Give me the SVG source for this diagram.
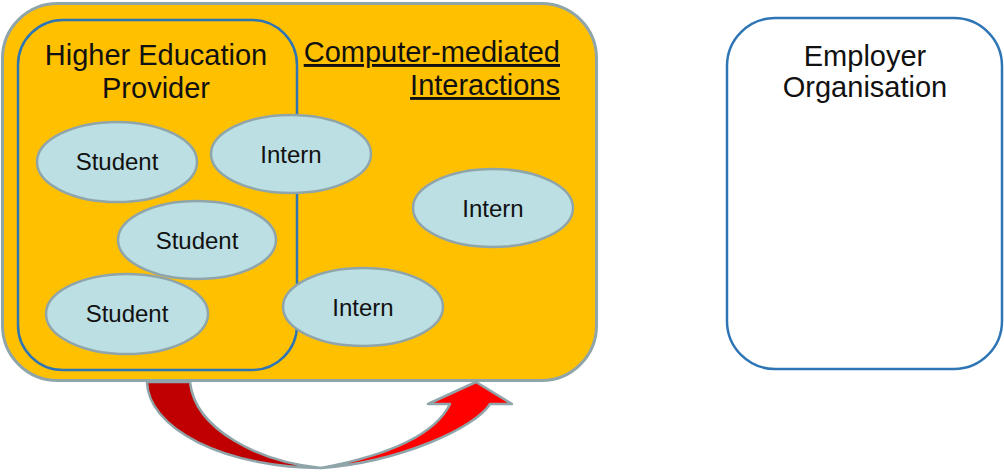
<svg xmlns="http://www.w3.org/2000/svg" width="1004" height="472" viewBox="0 0 1004 472">
<style>
.lbl{font-family:"Liberation Sans",Arial,sans-serif;fill:#111;text-anchor:middle}
.end{text-anchor:end;text-decoration:underline}
.big{font-size:29px}
.sm{font-size:24px}
.ell{fill:#BBDFE2;stroke:#8FA5AA;stroke-width:2.5}
.blue{fill:none;stroke:#2E75B6;stroke-width:2.5}
.arr{stroke:#8FA5AA;stroke-width:2.5;stroke-linejoin:round}
</style>
<rect width="1004" height="472" fill="#fff"/>
<g id="cmi">
<rect x="2.5" y="3.5" width="594" height="377" rx="55" ry="55" fill="#FFC000" stroke="#8FA5AA" stroke-width="3"/>
<text class="lbl big end" x="560" y="62">Computer-mediated</text>
<text class="lbl big end" x="560" y="95">Interactions</text>
</g>
<g id="hep">
<rect class="blue" x="18" y="20" width="279" height="350" rx="45" ry="45"/>
<text class="lbl big" x="156" y="65">Higher Education</text>
<text class="lbl big" x="156" y="98">Provider</text>
</g>
<g id="student1"><ellipse class="ell" cx="117" cy="162" rx="80" ry="40"/><text class="lbl sm" x="117" y="170">Student</text></g>
<g id="intern1"><ellipse class="ell" cx="291" cy="154" rx="80" ry="39"/><text class="lbl sm" x="291" y="163">Intern</text></g>
<g id="student2"><ellipse class="ell" cx="197" cy="240" rx="79" ry="39"/><text class="lbl sm" x="197" y="249">Student</text></g>
<g id="student3"><ellipse class="ell" cx="127" cy="314" rx="81" ry="40"/><text class="lbl sm" x="127" y="322">Student</text></g>
<g id="intern2"><ellipse class="ell" cx="493" cy="208" rx="80" ry="39"/><text class="lbl sm" x="493" y="217">Intern</text></g>
<g id="intern3"><ellipse class="ell" cx="363" cy="307" rx="80" ry="39"/><text class="lbl sm" x="363" y="316">Intern</text></g>
<g id="employer">
<rect class="blue" x="727" y="18" width="275" height="351" rx="48" ry="48" fill="#fff"/>
<text class="lbl big" x="865" y="66">Employer</text>
<text class="lbl big" x="865" y="97">Organisation</text>
</g>
<g id="connectors">
<path class="arr" fill="#C00000" d="M147,382 A176,87 0 0 0 321,468 C260,462 195,430 190,382 Z"/>
<path class="arr" fill="#FF0000" d="M321,468 C400,462 475,428 490,404 L512,404 L476,382 L428,404 L450,404 C435,435 390,455 321,468 Z"/>
</g>
</svg>
